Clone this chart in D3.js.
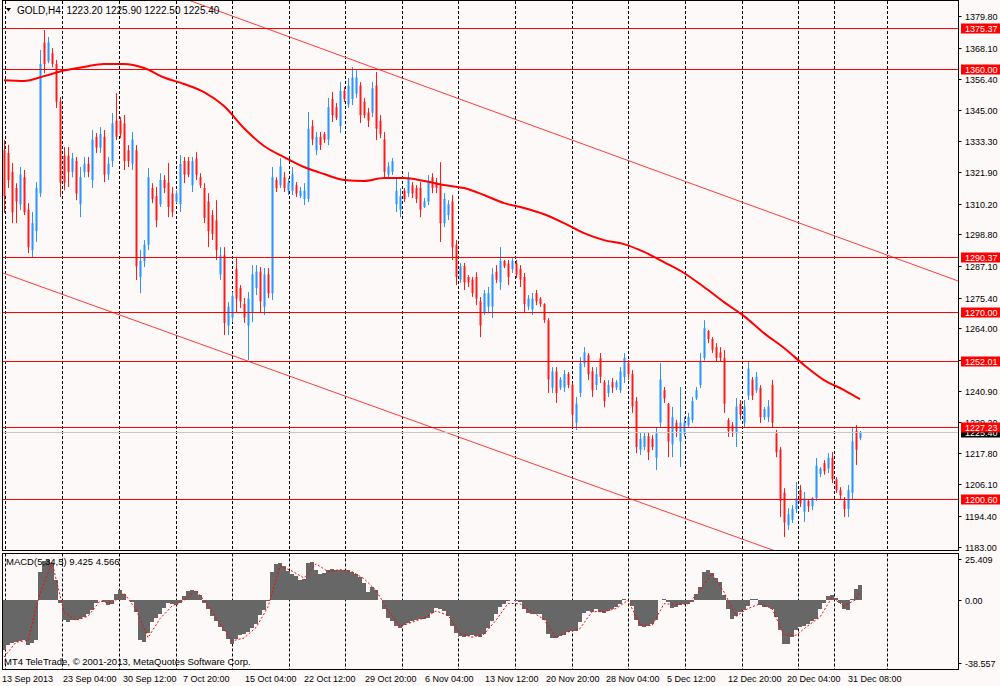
<!DOCTYPE html>
<html>
<head>
<meta charset="utf-8">
<script src="https://cdn.jsdelivr.net/npm/d3@7"></script>
<style>
  html, body { margin: 0; padding: 0; background: #fdf9f8; }
  svg { display: block; font-family: "Liberation Sans", Arial, sans-serif; font-size: 9px; }
</style>
</head>
<body>
<svg id="chart" width="1000" height="686"></svg>
<script>
// GOLD H4 bars, one entry per drawn bar: [open, high, low, close]
const ohlc = [
  [1330,1333.8,1306.7,1313],[1329,1332,1316,1319],[1322,1325.3,1303,1307],[1316,1317.8,1303,1311],[1310,1323.8,1307.8,1321],[1320,1322.7,1306,1307],[1308,1310.4,1291.9,1294],[1293,1307.1,1290.4,1303],[1300,1318.2,1296,1316],[1314,1367.2,1312.7,1362],
  [1370,1374.6,1358.6,1362],[1363,1372,1362.3,1370],[1366,1367.9,1360.9,1362],[1362,1363.5,1345.7,1348],[1348,1349.7,1312.7,1318],[1328,1331.2,1315.2,1318],[1328,1331.2,1316.4,1322],[1322,1329,1320,1327],[1326,1327.5,1311.5,1314],[1310,1323.8,1305.2,1320],
  [1322,1327.5,1320,1325],[1325,1327.5,1320,1322],[1319,1337.5,1316,1334],[1335,1336.4,1329,1331],[1331,1338.6,1329,1336],[1335,1337.5,1318.2,1321],[1321,1327.5,1319,1325],[1326,1343.8,1323.8,1340],[1341,1351.2,1333.8,1335],[1341,1342.3,1334.5,1336],
  [1340,1343.1,1322.7,1326],[1330,1331.9,1323.8,1326],[1325,1336.8,1322.7,1334],[1330,1331.9,1281.9,1287],[1283,1293,1277,1289],[1289,1296.7,1286.7,1295],[1295,1323.4,1293,1320],[1316,1317.8,1310.4,1312],[1313,1316.4,1301.5,1304],[1310,1321.5,1309,1319],
  [1319,1320.8,1314.1,1316],[1318,1325.3,1305.2,1309],[1314,1316.4,1305.2,1307],[1311,1315.2,1310.4,1314],[1310,1328.2,1307.1,1325],[1326,1327.5,1317.8,1321],[1326,1327.5,1320,1321],[1317,1327.5,1314.5,1326],[1327,1329.3,1319,1321],[1320,1321.5,1316,1317],
  [1316,1317.8,1303,1305],[1311,1314.1,1294.1,1300],[1306,1307.8,1296.7,1299],[1304,1311.5,1289.3,1293],[1284,1294.1,1281.9,1291],[1291,1294.1,1261.5,1266],[1265,1273.7,1261.5,1272],[1268,1277.4,1266.3,1276],[1286,1290,1270,1275],[1279,1280,1271.5,1274],
  [1273,1275.2,1266,1268],[1265,1277.4,1252.2,1275],[1270,1287.4,1266.3,1284],[1279,1287.4,1276.3,1285],[1285,1286.7,1269.6,1274],[1272,1286.3,1268.9,1284],[1284,1286.3,1275.2,1277],[1277,1323.8,1274.5,1320],[1319,1320,1314.5,1316],[1317,1327.1,1316,1324],
  [1320,1321.9,1314.5,1316],[1315,1319.7,1313.4,1318],[1315,1323.8,1313.4,1321],[1317,1318.2,1312.7,1314],[1313,1316.4,1312.3,1315],[1312,1317.8,1309.7,1315],[1312,1344.2,1310.8,1338],[1339,1341.2,1331.9,1334],[1330,1336.8,1328.2,1335],[1335,1336.8,1330.1,1332],
  [1336,1336.8,1332.7,1334],[1334,1349.4,1331.9,1346],[1349,1351.6,1340.5,1343],[1346,1347.5,1341.2,1342],[1339,1355.3,1336.4,1352],[1352,1353.4,1347.9,1349],[1347,1356.8,1345.7,1354],[1349,1360.9,1346.8,1357],[1351,1359.7,1349.4,1357],[1354,1355.3,1340.1,1343],
  [1348,1349.4,1341.9,1343],[1344,1345.7,1338.6,1341],[1344,1355.3,1342.3,1353],[1354,1359,1333.8,1338],[1341,1343.1,1334.5,1336],[1334,1336.8,1320,1322],[1321,1325.6,1320,1324],[1322,1327.1,1320.8,1326],[1310,1319.7,1307.1,1315],[1308,1315.9,1305.2,1313],
  [1315,1316,1310.8,1312],[1314,1321.9,1312.7,1320],[1317,1318.2,1312.3,1314],[1316,1317.1,1310.4,1312],[1316,1318.2,1305.2,1308],[1309,1312.3,1308.6,1311],[1311,1320.8,1309.7,1318],[1320,1321.5,1314.1,1316],[1318,1319.7,1314.1,1316],[1317,1325.6,1296,1303],
  [1303,1314.1,1301.5,1312],[1306,1311.5,1304.1,1310],[1311,1313.4,1289.3,1294],[1295,1296.7,1280,1283],[1282,1288.2,1280.8,1287],[1287,1288.2,1278.2,1281],[1283,1283.7,1279.3,1281],[1282,1283,1275.6,1277],[1283,1284.8,1272.6,1275],[1274,1275.6,1260.7,1265],
  [1270,1278.2,1268.9,1277],[1272,1279.3,1269.6,1277],[1272,1286.3,1267.8,1284],[1285,1287.4,1280.8,1282],[1281,1294.1,1278.2,1289],[1289,1289.3,1286.3,1287],[1288,1289.3,1280,1283],[1286,1290,1284.5,1289],[1288,1289.3,1282.6,1284],[1286,1287.4,1279.3,1282],
  [1283,1284.5,1269.6,1273],[1272,1276.3,1270.7,1275],[1271,1277.1,1268.9,1275],[1277,1278.2,1272.6,1274],[1275,1275.6,1271.9,1273],[1273,1273.3,1266,1267],[1267,1267.8,1240,1245],[1242,1249.6,1240,1248],[1248,1249.6,1236.3,1240],[1242,1245.9,1241.1,1245],
  [1242,1248.5,1240.4,1247],[1247,1247.8,1241.8,1243],[1243,1243.7,1227.4,1232],[1229,1238.5,1226.3,1236],[1240,1253.3,1238.5,1251],[1251,1257,1249.6,1255],[1254,1254.8,1244.8,1247],[1248,1249.6,1238.5,1241],[1243,1249.6,1241.1,1247],[1253,1254.8,1243.7,1246],
  [1244,1244.8,1234.7,1237],[1240,1244.8,1238.5,1243],[1244,1245.5,1240,1242],[1242,1244.8,1241.1,1244],[1241,1249.6,1240,1248],[1246,1254.8,1243.7,1253],[1251,1252.2,1244.8,1247],[1247,1248.5,1232.6,1235],[1237,1238.5,1217.7,1220],[1219,1225.2,1217,1223],
  [1220,1225.5,1218.8,1224],[1224,1225.2,1215.1,1218],[1223,1224.4,1218.8,1220],[1216,1227.4,1211.4,1225],[1229,1251.1,1227.4,1245],[1241,1242.2,1236.3,1238],[1236,1236.3,1216.2,1222],[1221,1234.8,1216.2,1231],[1229,1230,1223.7,1226],[1222,1242.2,1212.5,1229],
  [1225,1231.1,1223.7,1229],[1228,1232.6,1227,1231],[1230,1238.5,1228.9,1237],[1238,1242.2,1237.4,1241],[1243,1254.8,1241.8,1252],[1253,1267,1252,1264],[1263,1263.3,1258.5,1260],[1260,1260.7,1254.8,1256],[1257,1258.5,1251.5,1253],[1255,1257,1251.5,1253],
  [1253,1255.9,1232.6,1236],[1230,1230.7,1223.7,1226],[1228,1229.2,1223.7,1226],[1225,1238.1,1220,1235],[1236,1237.4,1230,1232],[1229,1237.4,1227,1235],[1239,1251.5,1237.4,1249],[1245,1245.9,1237.4,1239],[1241,1247.8,1240,1246],[1242,1242.9,1228.9,1231],
  [1231,1234.8,1230,1234],[1231,1237.4,1229.2,1235],[1243,1244.8,1227,1229],[1225,1226.3,1216.2,1218],[1219,1220,1194,1200],[1203,1204.7,1186.6,1192],[1191,1197.3,1189.2,1195],[1193,1198.4,1191.8,1197],[1197,1207,1195.5,1201],[1204,1205.9,1197.7,1199],
  [1196,1203.3,1192.2,1201],[1200,1200.3,1195.9,1198],[1198,1201.4,1196.6,1201],[1201,1215.9,1200,1213],[1210,1212.5,1208.8,1212],[1214,1215.1,1209.7,1211],[1212,1217.7,1210.3,1216],[1216,1218.1,1206.6,1208],[1208,1208.8,1202.9,1204],[1204,1205.1,1200.3,1202],
  [1200,1201.4,1194,1197],[1197,1205.9,1194,1204],[1203,1227.4,1200.3,1222],[1226,1228.1,1213.3,1219],[1223.2,1225.9,1222.5,1225.4]
];

// Moving average line, read every 5 bars: [bar, price]
const maPoints = [
  [0,1356.0],[5,1355.7],[10,1357.5],[15,1359.6],[20,1360.9],[25,1362.0],[30,1362.0],[35,1360.5],[40,1357.0],[45,1354.6],
  [50,1351.6],[55,1346.4],[60,1338.2],[65,1331.6],[70,1327.5],[75,1323.8],[80,1321.2],[85,1319.0],[90,1318.6],[95,1319.7],
  [100,1319.7],[105,1318.6],[110,1317.1],[115,1316.0],[120,1313.4],[125,1310.4],[130,1308.6],[135,1306.3],[140,1303.0],[145,1299.3],
  [150,1296.7],[155,1295.2],[160,1292.3],[165,1288.5],[170,1284.5],[175,1279.3],[180,1273.7],[185,1268.5],[190,1262.2],[195,1256.7],
  [200,1250.4],[205,1244.8],[210,1241.1],[214,1237.7]
];

// MACD histogram, one value per bar
const macdHist = [
  -30.6,-28.0,-26.5,-25.9,-25.3,-24.9,-27.6,-26.3,-24.9,17.1,
  23.9,24.3,22.7,12.0,-2.0,-12.6,-13.6,-12.6,-12.2,-11.6,
  -10.4,-8.9,-6.5,-1.9,-0.3,-1.3,-3.4,-2.4,3.8,5.8,
  3.8,-0.3,-1.5,-7.5,-24.9,-25.9,-20.4,-13.6,-11.2,-8.5,
  -4.8,-1.9,-2.4,-3.2,-1.9,2.2,5.2,6.3,5.4,2.8,
  -1.7,-5.4,-9.7,-13.2,-16.7,-19.2,-23.9,-27.0,-23.9,-21.8,
  -20.8,-19.8,-17.5,-15.1,-9.5,-6.0,-0.7,17.1,22.2,22.7,
  20.8,17.7,16.1,14.5,12.0,13.0,22.7,23.3,18.6,16.1,
  16.5,18.6,19.0,18.3,18.1,18.1,18.1,17.3,16.1,14.0,
  10.4,4.8,7.9,5.8,0.1,-5.4,-11.0,-13.0,-16.3,-17.1,
  -15.7,-14.2,-13.0,-12.2,-11.8,-11.6,-11.0,-8.1,-4.8,-5.4,
  -6.9,-10.1,-16.3,-20.4,-22.2,-22.9,-22.2,-21.8,-22.0,-22.9,
  -21.2,-17.1,-13.2,-8.9,-4.4,-2.4,-0.9,-0.3,-0.5,-1.5,
  -5.4,-8.1,-8.5,-8.5,-8.5,-12.2,-21.2,-23.5,-23.3,-22.4,
  -21.6,-20.0,-19.0,-19.4,-13.6,-8.1,-6.7,-7.3,-5.8,-7.5,
  -8.3,-7.1,-5.8,-4.6,-2.4,0.7,0.1,-3.6,-12.2,-15.9,
  -16.7,-15.9,-15.1,-12.6,0.1,0.5,-1.3,-4.8,-4.4,-3.0,
  -2.4,-2.4,-1.1,3.4,7.9,17.1,18.1,16.5,13.6,11.0,
  2.8,-5.4,-11.6,-10.1,-7.5,-6.0,-4.0,0.7,0.5,-3.4,
  -4.2,-4.4,-5.4,-10.6,-18.8,-27.0,-27.4,-22.9,-18.3,-16.7,
  -15.9,-14.7,-13.2,-11.6,-5.4,-1.9,2.6,2.8,0.9,-1.9,
  -5.8,-6.5,0.7,6.5,9.4
];

// MACD signal line, read every 3 bars: [bar, value]
const macdSignal = [
  [0,-35.2],[3,-26.1],[6,-24.9],[9,3.8],[12,23.1],[15,-7.5],[18,-12.6],[21,-10.1],[24,-0.7],[27,-2.4],
  [30,4.2],[33,-6.0],[36,-23.3],[39,-11.6],[42,-3.8],[45,-0.3],[48,5.8],[51,-3.4],[54,-14.7],[57,-25.3],
  [60,-23.5],[63,-17.1],[66,-4.4],[69,20.8],[72,17.7],[75,13.4],[78,22.2],[81,17.3],[84,18.6],[87,17.3],
  [90,13.0],[93,5.8],[96,-6.5],[99,-16.3],[102,-13.8],[105,-11.2],[108,-6.9],[111,-9.5],[114,-20.8],[117,-22.9],
  [120,-21.2],[123,-12.6],[126,-2.2],[129,-2.4],[132,-7.5],[135,-12.0],[138,-23.3],[141,-19.8],[144,-17.7],[147,-7.3],
  [150,-7.3],[153,-5.4],[156,-0.3],[159,-15.3],[162,-15.9],[165,-2.4],[168,-2.8],[171,-2.6],[174,5.8],[177,16.1],
  [180,4.8],[183,-10.1],[186,-5.4],[189,-2.4],[192,-5.4],[195,-21.6],[198,-21.8],[201,-15.9],[204,-10.6],[207,1.5],
  [210,-3.8],[213,0.1],[214,4.6]
];

// Horizontal price levels and current price
const levels = [1375.37, 1360.00, 1290.37, 1270.00, 1252.01, 1227.23, 1200.60];
const currentPrice = 1225.40;

// Channel lines, two anchors each: [bar, price]
const upperChannel = [[84, 1365.2], [224, 1289.4]];
const lowerChannel = [[-0.25, 1284.5], [164, 1196.8]];

// Axes
const priceTicks = [1379.80, 1368.10, 1356.40, 1345.00, 1333.30, 1321.90, 1310.20, 1298.80, 1287.10,
  1275.40, 1264.00, 1252.30, 1240.90, 1229.20, 1217.80, 1206.10, 1194.40, 1183.00];
const macdTicks = [25.409, 0, -38.557];
const macdTickLabels = ["25.409", "0.00", "-38.557"];
const gridBars = [0.25, 14.5, 28.75, 43, 57, 71.25, 85.25, 99.5, 113.5, 127.75, 142, 156, 170.25, 184.5, 198.5, 207.5, 220.75];
const timeLabels = ["13 Sep 2013", "23 Sep 04:00", "30 Sep 12:00", "7 Oct 20:00", "15 Oct 04:00", "22 Oct 12:00",
  "29 Oct 20:00", "6 Nov 04:00", "13 Nov 12:00", "20 Nov 20:00", "28 Nov 04:00", "5 Dec 12:00",
  "12 Dec 20:00", "20 Dec 04:00", "31 Dec 08:00"];
const timeLabelBars = [-0.5, 14.75, 29.75, 44.75, 60.25, 75, 90.25, 105.25, 120.25, 135.5, 150.5, 165.75, 181, 195.75, 211];

const bg = "#fdf9f8";
const svg = d3.select("#chart");

// Panel geometry
const left = 3, right = 958.5;
const mainTop = 1, mainBottom = 550;
const macdTop = 553.5, macdBottom = 669;

// Scales
const x = d3.scaleLinear().domain([0, 214]).range([4, 860]);
const y = d3.scaleLinear().domain([1183, 1379.8]).range([546.7, 16]);
const ym = d3.scaleLinear().domain([-38.557, 25.409]).range([662.5, 558.5]);

svg.append("rect").attr("width", 1000).attr("height", 686).attr("fill", bg);

const defs = svg.append("defs");
defs.append("clipPath").attr("id", "clipMain").append("rect")
  .attr("x", left).attr("y", mainTop).attr("width", right - left).attr("height", mainBottom - mainTop);
defs.append("clipPath").attr("id", "clipMacd").append("rect")
  .attr("x", left).attr("y", macdTop).attr("width", right - left).attr("height", macdBottom - macdTop);

// Vertical dashed grid in both panels
[[mainTop, mainBottom], [macdTop, macdBottom]].forEach(([t, b]) => {
  svg.append("g").selectAll("line").data(gridBars).join("line")
    .attr("x1", d => Math.round(x(d)) + 0.5).attr("x2", d => Math.round(x(d)) + 0.5)
    .attr("y1", t).attr("y2", b)
    .attr("stroke", "#000").attr("stroke-width", 1).attr("stroke-dasharray", "3,2");
});

const gMain = svg.append("g").attr("clip-path", "url(#clipMain)");

// Candles
const candles = gMain.selectAll("g.bar").data(ohlc).join("g").attr("class", "bar");
candles.append("rect")
  .attr("x", (d, i) => x(i) - 1)
  .attr("width", 3)
  .attr("y", d => y(Math.max(d[0], d[3])))
  .attr("height", d => Math.max(1, Math.abs(y(d[0]) - y(d[3]))))
  .attr("fill", d => d[3] >= d[0] ? "#8cc6ff" : "#ff8c8c");
candles.append("line")
  .attr("x1", (d, i) => x(i) + 0.5).attr("x2", (d, i) => x(i) + 0.5)
  .attr("y1", d => y(d[1])).attr("y2", d => y(d[2]))
  .attr("stroke", d => d[3] >= d[0] ? "#2f93ff" : "#ff1a1a")
  .attr("stroke-width", 1);

// Moving average
gMain.append("path")
  .datum(maPoints)
  .attr("fill", "none").attr("stroke", "#ff0000").attr("stroke-width", 2)
  .attr("d", d3.line().x(d => x(d[0])).y(d => y(d[1])).curve(d3.curveMonotoneX));

// Channel lines, extended over the whole panel
function channelAt(a, b, bar) {
  return a[1] + (b[1] - a[1]) * (bar - a[0]) / (b[0] - a[0]);
}
[upperChannel, lowerChannel].forEach(([a, b]) => {
  const b0 = x.invert(left), b1 = x.invert(right);
  gMain.append("line")
    .attr("x1", x(b0)).attr("y1", y(channelAt(a, b, b0)))
    .attr("x2", x(b1)).attr("y2", y(channelAt(a, b, b1)))
    .attr("stroke", "#ff3b3b").attr("stroke-width", 1);
});

// Current price line
gMain.append("line")
  .attr("x1", left).attr("x2", right)
  .attr("y1", Math.round(y(currentPrice)) + 0.5).attr("y2", Math.round(y(currentPrice)) + 0.5)
  .attr("stroke", "#c8c8c8").attr("stroke-width", 1);

// Horizontal levels
gMain.selectAll("line.level").data(levels).join("line").attr("class", "level")
  .attr("x1", left).attr("x2", right)
  .attr("y1", d => Math.round(y(d)) + 0.5).attr("y2", d => Math.round(y(d)) + 0.5)
  .attr("stroke", "#ff0000").attr("stroke-width", 1);

// MACD panel
const gMacd = svg.append("g").attr("clip-path", "url(#clipMacd)");
gMacd.selectAll("rect").data(macdHist).join("rect")
  .attr("x", (d, i) => x(i) - 2)
  .attr("width", 4)
  .attr("y", d => Math.min(ym(d), ym(0)))
  .attr("height", d => Math.abs(ym(d) - ym(0)))
  .attr("fill", "#676767")
  .attr("shape-rendering", "crispEdges");
gMacd.append("path")
  .datum(macdSignal)
  .attr("fill", "none").attr("stroke", "#ff0000").attr("stroke-width", 1)
  .attr("stroke-dasharray", "2,2")
  .attr("d", d3.line().x(d => x(d[0])).y(d => ym(d[1])));

// Frames
const frame = svg.append("g").attr("fill", "none").attr("stroke", "#000").attr("stroke-width", 1)
  .attr("shape-rendering", "crispEdges");
frame.append("rect").attr("x", 2.5).attr("y", 0.5).attr("width", right - 2.5).attr("height", mainBottom - 0.5);
frame.append("rect").attr("x", 2.5).attr("y", macdTop).attr("width", right - 2.5).attr("height", macdBottom - macdTop);

// Price axis
const axisTxt = svg.append("g").attr("fill", "#000");
priceTicks.forEach(v => {
  const py = Math.round(y(v)) + 0.5;
  svg.append("line").attr("x1", right).attr("x2", right + 3).attr("y1", py).attr("y2", py).attr("stroke", "#000");
  axisTxt.append("text").attr("x", 965).attr("y", py).attr("dy", "0.35em").text(v.toFixed(2));
});

// Current price label (black) and level labels (red)
function priceBox(v, fill) {
  const py = Math.round(y(v)) + 0.5;
  svg.append("rect").attr("x", 961).attr("y", py - 5).attr("width", 39).attr("height", 10).attr("fill", fill);
  svg.append("text").attr("x", 965).attr("y", py).attr("dy", "0.35em").attr("fill", "#fff").text(v.toFixed(2));
}
priceBox(currentPrice, "#000");
levels.forEach(v => priceBox(v, "#ff0000"));

// MACD axis
macdTicks.forEach((v, i) => {
  const py = Math.round(ym(v)) + 0.5;
  svg.append("line").attr("x1", right).attr("x2", right + 3).attr("y1", py).attr("y2", py).attr("stroke", "#000");
  svg.append("text").attr("x", 965).attr("y", py).attr("dy", "0.35em").text(macdTickLabels[i]);
});

// Time axis labels
svg.append("g").selectAll("text").data(timeLabels).join("text")
  .attr("x", (d, i) => x(timeLabelBars[i]))
  .attr("y", 681.5)
  .text(d => d);

// Headers
svg.append("path").attr("d", "M6,8 L11,8 L8.5,11.5 Z").attr("fill", "#000");
svg.append("text").attr("x", 17).attr("y", 13.5).attr("xml:space", "preserve")
  .style("font-size", "10px")
  .text("GOLD,H4  1223.20 1225.90 1222.50 1225.40");
svg.append("text").attr("x", 6).attr("y", 565).style("font-size", "9.5px").text("MACD(5,34,5) 9.425 4.566");
svg.append("text").attr("x", 4).attr("y", 665).style("font-size", "9.5px").text("MT4 TeleTrade, \u00a9 2001-2013, MetaQuotes Software Corp.");
</script>
</body>
</html>
